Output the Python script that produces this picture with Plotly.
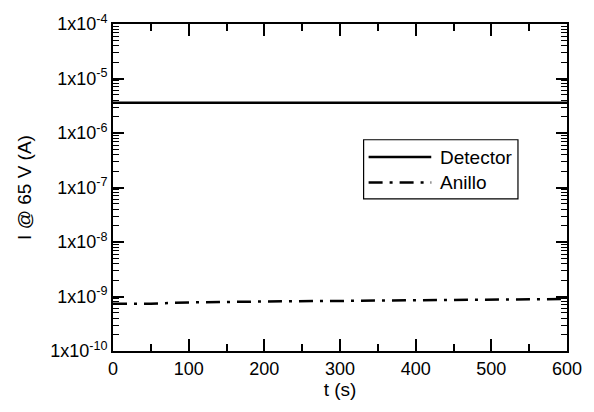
import plotly.graph_objects as go

t_det = [0, 100, 200, 300, 400, 500, 600]
i_det = [3.6e-6, 3.6e-6, 3.6e-6, 3.6e-6, 3.6e-6, 3.6e-6, 3.6e-6]
t_ani = [0, 50, 100, 150, 200, 300, 400, 500, 600]
i_ani = [7.4e-10, 7.4e-10, 7.8e-10, 8.0e-10, 8.1e-10, 8.3e-10, 8.5e-10, 8.7e-10, 9.0e-10]

ytick_vals = [1e-10, 1e-9, 1e-8, 1e-7, 1e-6, 1e-5, 1e-4]
ytick_text = ["1x10<sup>-10</sup>", "1x10<sup>-9</sup>", "1x10<sup>-8</sup>", "1x10<sup>-7</sup>",
              "1x10<sup>-6</sup>", "1x10<sup>-5</sup>", "1x10<sup>-4</sup>"]
xtick_vals = [0, 100, 200, 300, 400, 500, 600]
series_names = ["Detector", "Anillo"]
DASH = "14px,7px,3px,7px"

font = "Liberation Sans, Arial, Helvetica, sans-serif"

fig = go.Figure()
fig.add_trace(go.Scatter(x=t_det, y=i_det, mode="lines", name=series_names[0],
                         line=dict(color="black", width=2.5), showlegend=False))
fig.add_trace(go.Scatter(x=t_ani, y=i_ani, mode="lines", name=series_names[1],
                         line=dict(color="black", width=2.5, dash=DASH), showlegend=False))

# manual legend (box, sample lines, labels) in paper coordinates
lx0, lx1, ly0, ly1 = 0.552, 0.892, 0.465, 0.646
fig.add_shape(type="rect", xref="paper", yref="paper", x0=lx0, x1=lx1, y0=ly0, y1=ly1,
              line=dict(color="black", width=1.2), fillcolor="white", layer="above")
rows = [0.593, 0.515]
dashes = ["solid", DASH]
for name, yy, d in zip(series_names, rows, dashes):
    fig.add_shape(type="line", xref="paper", yref="paper", x0=0.563, x1=0.701, y0=yy, y1=yy,
                  line=dict(color="black", width=2.5, dash=d), layer="above")
    fig.add_annotation(xref="paper", yref="paper", x=0.716, y=yy, text=name, showarrow=False,
                       xanchor="left", yanchor="middle", font=dict(size=19, family=font, color="black"))

fig.update_layout(
    width=594, height=412,
    margin=dict(l=113, r=19, t=18, b=61),
    paper_bgcolor="white", plot_bgcolor="white",
    font=dict(family=font, size=17, color="black"),
    showlegend=False,
    xaxis=dict(range=[0, 600], tickvals=xtick_vals, ticks="inside", ticklen=12,
               tickwidth=1.5, tickcolor="black", showline=True, linecolor="black",
               linewidth=2, mirror="ticks", showgrid=False, zeroline=False,
               tickfont=dict(size=18),
               title=dict(text="t (s)", standoff=4, font=dict(size=19)),
               minor=dict(dtick=50, ticks="inside", ticklen=7, tickcolor="black", tickwidth=1.5)),
    yaxis=dict(type="log", range=[-10, -4], tickvals=ytick_vals, ticktext=ytick_text,
               ticks="inside", ticklen=11, tickwidth=1.5, tickcolor="black",
               showline=True, linecolor="black", linewidth=2, mirror="ticks",
               showgrid=False, zeroline=False, tickfont=dict(size=18),
               title=dict(text="I @ 65 V (A)", standoff=14, font=dict(size=19)),
               minor=dict(ticks="inside", ticklen=6, tickcolor="black", tickwidth=1,
                          dtick="D1")),
)

fig.write_html("out.html")
